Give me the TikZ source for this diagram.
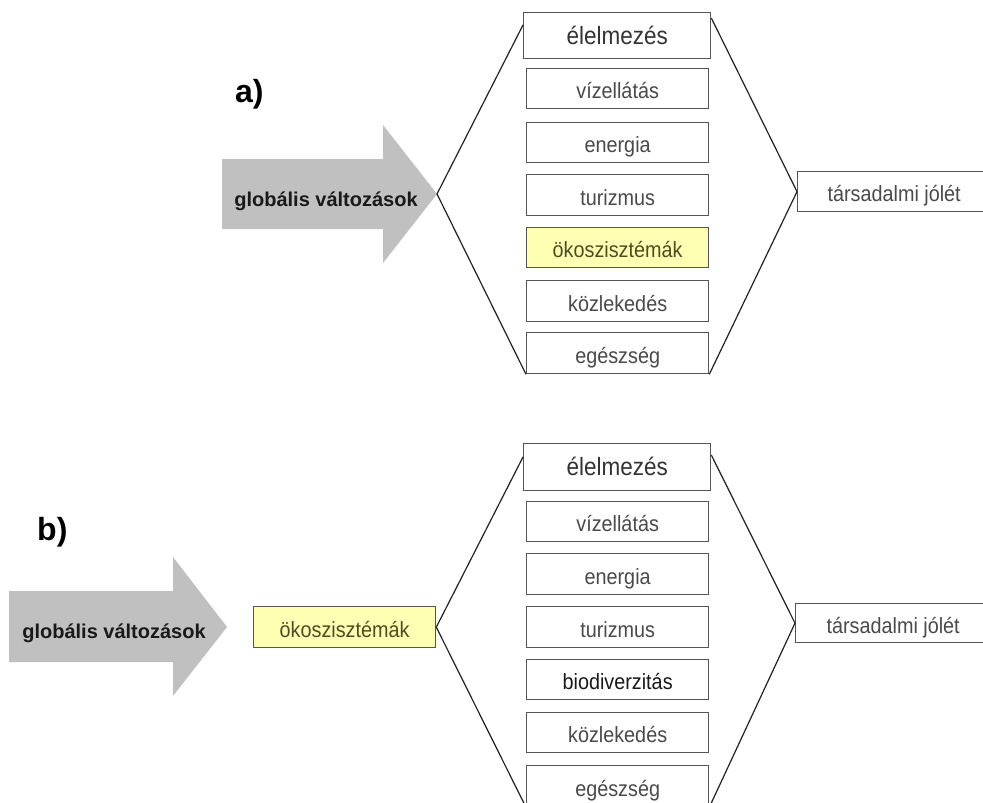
\documentclass[tikz,border=0pt]{standalone}
\usepackage{fontspec}
\setmainfont{Liberation Sans}
\newfontfamily\boxfont[FakeStretch=0.9]{Liberation Sans}
\usetikzlibrary{calc}
\definecolor{boxline}{HTML}{555555}
\definecolor{boxtext}{HTML}{4A4A4A}
\definecolor{arrowfill}{HTML}{C0C0C0}
\definecolor{ecofill}{HTML}{FFFFB4}
\definecolor{ecotext}{HTML}{4D4D22}
\definecolor{linecol}{HTML}{222222}
\begin{document}
\begin{tikzpicture}[x=1pt,y=-1pt,
  box/.style={draw=boxline, line width=1.3pt, fill=white, text=boxtext,
    inner sep=0pt, minimum width=182pt, minimum height=40pt,
    font=\boxfont\fontsize{22}{26}\selectfont, text height=20pt, text depth=0pt,
    anchor=north west},
  bigbox/.style={box, minimum width=187pt, text=black!80,
    font=\boxfont\fontsize{25}{30}\selectfont, text height=17pt},
  ecobox/.style={box, fill=ecofill, text=ecotext},
  conn/.style={draw=linecol, line width=1.2pt},
  bigarrow/.style={fill=arrowfill, draw=none},
  arrowtext/.style={font=\fontsize{20}{24}\selectfont\bfseries, text=black!90, anchor=base, inner sep=0pt},
  panellabel/.style={font=\fontsize{32}{38}\selectfont\bfseries, text=black, anchor=base west, inner sep=0pt}
]
\clip (0,0) rectangle (983,803);
\fill[white] (0,0) rectangle (983,803);

% ---------------- panel a ----------------
\node[panellabel] (labA) at (235,102) {a)};
\path[bigarrow] (222,159) -- (383,159) -- (383,125) -- (437,194) -- (383,263) -- (383,229) -- (222,229) -- cycle;
\coordinate (tipA) at (437,194);
\node[arrowtext] (gA) at (326,206) {globális változások};

\node[bigbox, minimum height=46pt] (elA) at (523,12) {élelmezés};
\node[box] (viA) at (526,68) {vízellátás};
\node[box] (enA) at (526,122) {energia};
\node[box, minimum height=41pt] (tuA) at (526,174) {turizmus};
\node[ecobox] (okA) at (526,227) {ökoszisztémák};
\node[box, minimum height=41pt] (kozA) at (526,280) {közlekedés};
\node[box, minimum height=41pt] (egA) at (526,332) {egészség};
\node[box, minimum width=193pt] (tjA) at (797,171) {társadalmi jólét};

\draw[conn] ($(elA.north west)+(0,13)$) -- (tipA) -- (egA.south west);
\draw[conn] ($(elA.north east)+(0,6)$) -- (tjA.west) -- (egA.south east);

% ---------------- panel b ----------------
\node[panellabel] (labB) at (37,540) {b)};
\path[bigarrow] (9,591) -- (173,591) -- (173,557) -- (227,627) -- (173,696) -- (173,662) -- (9,662) -- cycle;
\node[arrowtext] (gB) at (114,638) {globális változások};

\node[ecobox, minimum height=41pt] (okB) at (253,606) {ökoszisztémák};

\node[bigbox, minimum height=47pt] (elB) at (523,443) {élelmezés};
\node[box] (viB) at (526,501) {vízellátás};
\node[box, minimum height=41pt] (enB) at (526,553) {energia};
\node[box, minimum height=41pt] (tuB) at (526,606) {turizmus};
\node[box, text=black!90] (biB) at (526,659) {biodiverzitás};
\node[box] (kozB) at (526,712) {közlekedés};
\node[box, minimum height=41pt] (egB) at (526,765) {egészség};
\node[box, minimum width=195pt, minimum height=39pt] (tjB) at (795,603) {társadalmi jólét};

\draw[conn] ($(elB.north west)+(0,14)$) -- (okB.east) -- (egB.south west);
\draw[conn] ($(elB.north east)+(0,12)$) -- (tjB.west) -- (egB.south east);
\end{tikzpicture}
\end{document}
